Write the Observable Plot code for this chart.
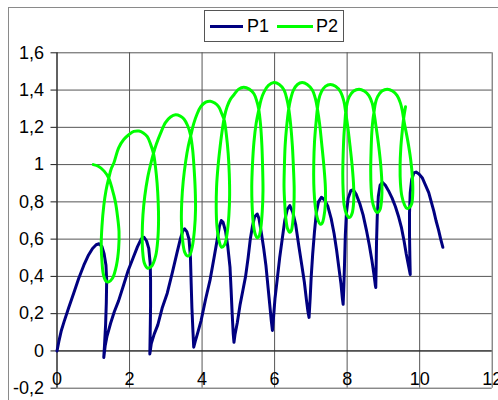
<!DOCTYPE html>
<html>
<head>
<meta charset="utf-8">
<script src="https://cdn.jsdelivr.net/npm/d3@7"></script>
<script src="https://cdn.jsdelivr.net/npm/@observablehq/plot@0.6"></script>
<style>
html,body{margin:0;padding:0;background:#fff;overflow:hidden;width:498px;height:400px;}
#wrap{position:relative;width:498px;height:400px;}
#wrap svg{position:absolute;left:0;top:0;}
#frame{position:absolute;left:8px;top:7px;width:600px;height:600px;border:1px solid #8a8a8a;}
#legend{position:absolute;left:204px;top:10px;width:138px;height:30px;border:1px solid #555;background:#fff;font:18px "Liberation Sans",Arial,sans-serif;color:#000;}
#legend .sw{position:absolute;top:14px;height:3px;}
#legend .lb{position:absolute;top:5px;line-height:20px;}
</style>
</head>
<body>
<div id="wrap"><div id="frame"></div></div>
<script>
const xTicks = [0, 2, 4, 6, 8, 10, 12];
const xTickLabels = ["0", "2", "4", "6", "8", "10", "12"];
const yTicks = [-0.2, 0, 0.2, 0.4, 0.6, 0.8, 1, 1.2, 1.4, 1.6];
const yTickLabels = ["-0,2", "0", "0,2", "0,4", "0,6", "0,8", "1", "1,2", "1,4", "1,6"];
const seriesNames = ["P1", "P2"];
const seriesColors = ["#000080", "#00ff00"];

const p1X = [0.00,0.05,0.12,0.20,0.32,0.46,0.60,0.74,0.87,0.98,1.08,1.16,1.24,1.30,1.35,1.37,1.36,1.34,1.31,1.29,
1.33,1.38,1.48,1.58,1.70,1.83,1.96,2.10,2.22,2.32,2.40,2.47,2.53,2.57,2.58,2.58,2.57,2.56,
2.60,2.68,2.78,2.90,3.04,3.18,3.30,3.40,3.47,3.52,3.58,3.64,3.68,3.70,3.72,3.75,3.77,
3.81,3.87,3.97,4.10,4.22,4.33,4.42,4.48,4.53,4.58,4.65,4.71,4.77,4.80,4.83,4.86,4.88,
4.91,4.97,5.05,5.13,5.20,5.27,5.33,5.39,5.45,5.52,5.57,5.63,5.70,5.76,5.82,5.87,5.91,5.94,
5.97,6.01,6.07,6.14,6.21,6.28,6.35,6.42,6.50,6.58,6.67,6.75,6.82,6.88,6.92,6.95,
6.98,7.01,7.05,7.10,7.15,7.21,7.29,7.38,7.47,7.56,7.64,7.71,7.77,7.83,7.87,7.89,
7.91,7.93,7.95,7.98,8.03,8.10,8.17,8.25,8.35,8.44,8.53,8.61,8.68,8.74,8.78,8.79,
8.80,8.81,8.83,8.86,8.91,8.97,9.05,9.14,9.24,9.33,9.42,9.50,9.57,9.63,9.69,9.74,
9.73,9.72,9.72,9.74,9.78,9.84,9.90,9.98,10.07,10.16,10.25,10.32,10.39,10.45,10.52,10.58,10.64];
const p1Y = [0.00,0.05,0.11,0.16,0.23,0.31,0.39,0.46,0.515,0.55,0.57,0.575,0.56,0.52,0.46,0.38,0.26,0.14,0.03,-0.035,
0.03,0.08,0.15,0.21,0.27,0.35,0.43,0.50,0.56,0.60,0.61,0.59,0.55,0.47,0.38,0.24,0.10,-0.016,
0.04,0.09,0.14,0.23,0.31,0.42,0.52,0.60,0.645,0.655,0.64,0.60,0.50,0.36,0.23,0.10,0.02,
0.05,0.09,0.16,0.28,0.38,0.50,0.60,0.67,0.70,0.69,0.64,0.56,0.45,0.33,0.20,0.09,0.046,
0.09,0.15,0.25,0.33,0.40,0.50,0.60,0.67,0.72,0.735,0.71,0.64,0.55,0.46,0.34,0.24,0.16,0.11,
0.18,0.28,0.38,0.50,0.60,0.70,0.76,0.78,0.745,0.68,0.56,0.46,0.37,0.27,0.21,0.18,
0.28,0.40,0.52,0.64,0.74,0.80,0.825,0.81,0.775,0.71,0.63,0.54,0.45,0.36,0.28,0.25,
0.35,0.48,0.62,0.74,0.82,0.86,0.865,0.84,0.79,0.73,0.65,0.57,0.49,0.41,0.35,0.34,
0.45,0.58,0.72,0.83,0.89,0.905,0.89,0.86,0.82,0.775,0.72,0.66,0.59,0.52,0.46,0.41,
0.50,0.62,0.74,0.85,0.92,0.955,0.96,0.95,0.93,0.89,0.85,0.80,0.75,0.70,0.65,0.60,0.556];

const p2X = [1.00,1.15,1.30,1.42,1.52,1.61,1.67,1.71,1.70,1.64,1.53,1.42,1.35,1.28,1.24,1.22,1.24,1.29,1.35,1.43,1.50,
1.57,1.70,1.84,1.98,2.12,2.26,2.38,2.49,2.58,2.66,
2.72,2.76,2.79,2.80,2.78,2.72,2.61,2.49,2.41,2.36,2.35,2.37,2.42,2.50,2.58,2.66,
2.74,2.86,2.99,3.13,3.27,3.40,3.50,3.60,3.68,
3.74,3.78,3.81,3.82,3.79,3.73,3.66,3.59,3.52,3.46,3.43,3.44,3.48,3.55,3.62,3.70,
3.77,3.86,3.96,4.10,4.23,4.35,4.46,4.55,4.61,
4.67,4.72,4.75,4.76,4.74,4.69,4.62,4.54,4.47,4.41,4.39,4.40,4.44,4.50,4.56,4.62,
4.69,4.78,4.88,5.01,5.15,5.30,5.43,5.51,5.56,
5.61,5.65,5.67,5.68,5.66,5.62,5.57,5.52,5.46,5.41,5.38,5.37,5.39,5.43,5.49,5.56,
5.63,5.71,5.83,5.98,6.13,6.26,6.34,6.39,
6.44,6.49,6.52,6.54,6.53,6.50,6.46,6.42,6.36,6.31,6.28,6.26,6.27,6.29,6.33,6.39,
6.44,6.52,6.63,6.76,6.90,7.04,7.13,7.18,
7.24,7.30,7.36,7.40,7.40,7.36,7.31,7.26,7.20,7.14,7.10,7.08,7.08,7.10,7.14,7.18,
7.22,7.29,7.40,7.54,7.68,7.82,7.91,7.96,
8.02,8.08,8.14,8.18,8.18,8.14,8.09,8.04,7.98,7.92,7.89,7.88,7.89,7.91,7.94,7.96,
8.00,8.06,8.18,8.33,8.47,8.60,8.69,8.74,
8.80,8.87,8.93,8.96,8.95,8.91,8.86,8.81,8.75,8.69,8.66,8.65,8.66,8.68,8.71,8.74,
8.78,8.84,8.96,9.11,9.25,9.38,9.47,9.52,
9.58,9.67,9.75,9.80,9.81,9.78,9.72,9.65,9.58,9.51,9.47,9.46,9.48,9.52,9.56,9.61];
const p2Y = [1.00,0.99,0.965,0.93,0.87,0.80,0.72,0.64,0.55,0.46,0.39,0.37,0.375,0.41,0.48,0.57,0.67,0.78,0.86,0.93,0.98,
1.01,1.09,1.135,1.16,1.178,1.18,1.17,1.15,1.11,1.06,
0.98,0.90,0.80,0.70,0.60,0.51,0.455,0.445,0.47,0.54,0.63,0.73,0.83,0.93,1.00,1.06,
1.11,1.17,1.225,1.255,1.267,1.26,1.245,1.21,1.16,
1.08,0.98,0.87,0.76,0.65,0.56,0.515,0.51,0.53,0.60,0.70,0.80,0.91,1.02,1.10,1.165,
1.22,1.27,1.31,1.335,1.34,1.33,1.31,1.27,1.24,
1.16,1.06,0.95,0.84,0.73,0.63,0.57,0.556,0.59,0.67,0.77,0.88,0.99,1.10,1.19,1.26,
1.31,1.35,1.375,1.405,1.415,1.405,1.38,1.34,1.30,
1.22,1.10,0.98,0.86,0.75,0.66,0.615,0.607,0.63,0.69,0.78,0.88,1.00,1.12,1.22,1.29,
1.35,1.39,1.425,1.44,1.43,1.40,1.35,1.30,
1.22,1.10,0.98,0.87,0.77,0.69,0.645,0.637,0.655,0.71,0.79,0.88,0.99,1.10,1.20,1.30,
1.35,1.40,1.43,1.44,1.43,1.40,1.35,1.30,
1.22,1.11,0.99,0.88,0.79,0.72,0.685,0.68,0.70,0.75,0.82,0.90,1.01,1.12,1.22,1.30,
1.35,1.39,1.42,1.43,1.42,1.39,1.34,1.28,
1.20,1.10,0.99,0.88,0.80,0.74,0.72,0.717,0.735,0.78,0.86,0.95,1.05,1.15,1.23,1.28,
1.33,1.365,1.395,1.405,1.395,1.37,1.33,1.28,
1.20,1.10,0.99,0.89,0.81,0.76,0.745,0.745,0.765,0.81,0.88,0.97,1.07,1.17,1.24,1.28,
1.33,1.365,1.395,1.405,1.395,1.37,1.33,1.29,
1.22,1.13,1.03,0.93,0.85,0.79,0.77,0.765,0.785,0.83,0.90,0.99,1.09,1.18,1.25,1.31];

const p1Rows = p1X.map((x, i) => ({series: seriesNames[0], x, y: p1Y[i]}));
const p2Rows = p2X.map((x, i) => ({series: seriesNames[1], x, y: p2Y[i]}));

const font = '"Liberation Sans", Arial, sans-serif';
const chart = Plot.plot({
  width: 498,
  height: 400,
  marginLeft: 56.5,
  marginRight: 6.3,
  marginTop: 52.3,
  marginBottom: 12.3,
  x: {domain: [0, 12], axis: null},
  y: {domain: [-0.2, 1.6], axis: null},
  style: {background: "transparent", fontFamily: font, fontSize: "18px", color: "#000", overflow: "visible"},
  marks: [
    Plot.ruleY(yTicks, {stroke: "#555", strokeWidth: 1}),
    Plot.ruleX(xTicks, {stroke: "#555", strokeWidth: 1}),
    Plot.ruleY([0], {stroke: "#1a1a1a", strokeWidth: 1}),
    Plot.ruleX([0], {stroke: "#1a1a1a", strokeWidth: 1}),
    Plot.axisY(yTicks, {tickFormat: d => yTickLabels[yTicks.indexOf(d)], tickSize: 6, tickPadding: 7, fontSize: 18, stroke: "#1a1a1a", label: null}),
    Plot.text(xTicks, {x: d => d, y: 0, dy: 28, text: (d, i) => xTickLabels[i], fontSize: 18, fill: "#000"}),
    Plot.line(p1Rows, {x: "x", y: "y", stroke: seriesColors[0], strokeWidth: 3, strokeLinejoin: "round", strokeLinecap: "round"}),
    Plot.line(p2Rows, {x: "x", y: "y", stroke: seriesColors[1], strokeWidth: 3, curve: "catmull-rom", strokeLinejoin: "round", strokeLinecap: "round"})
  ]
});
const wrap = document.getElementById("wrap");
wrap.insertBefore(chart, wrap.firstChild);

const legend = document.createElement("div");
legend.id = "legend";
const swLeft = [5, 72];
const swWidth = [33, 36];
const lbLeft = [42, 111];
seriesNames.forEach((name, i) => {
  const sw = document.createElement("div");
  sw.className = "sw";
  sw.style.left = swLeft[i] + "px";
  sw.style.width = swWidth[i] + "px";
  sw.style.background = seriesColors[i];
  legend.appendChild(sw);
  const lb = document.createElement("div");
  lb.className = "lb";
  lb.style.left = lbLeft[i] + "px";
  lb.textContent = name;
  legend.appendChild(lb);
});
wrap.appendChild(legend);
</script>
</body>
</html>
